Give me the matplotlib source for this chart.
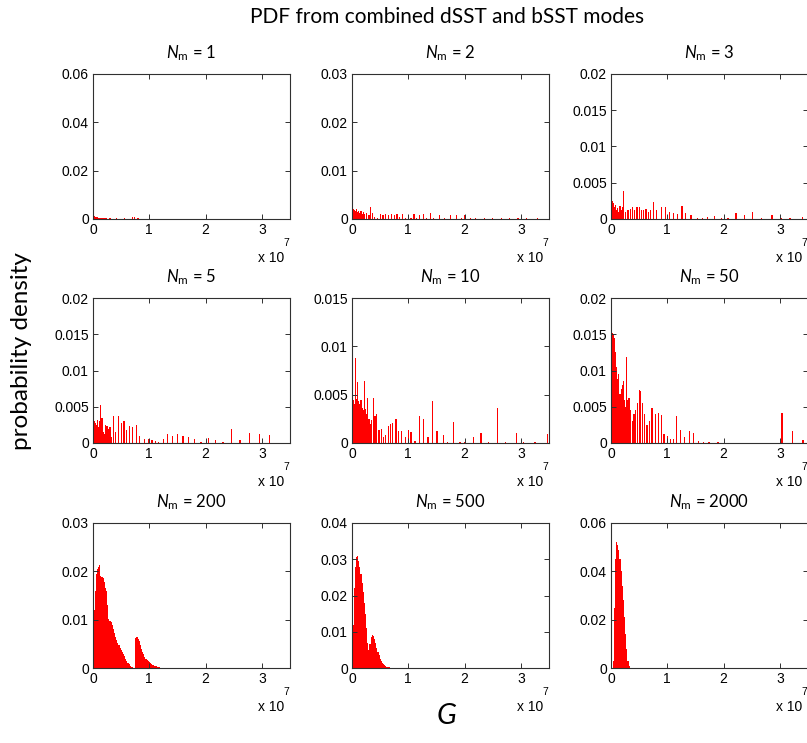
import numpy as np
import matplotlib
matplotlib.use("Agg")
import matplotlib.pyplot as plt

# histogram bin width (units of 1e7) for the densely filled part of each panel
bin_w = 0.02

nm_labels = ["1", "2", "3", "5", "10", "50", "200", "500", "2000"]

# N_m = 1
nm1_dense = [0.0020, 0.0012, 0.0010, 0.0008, 0.0007, 0.0006, 0.0005, 0.0005, 0.0004,
             0.0004, 0.0003, 0.0003, 0.0003]
nm1_g = [0.30, 0.36, 0.42, 0.50, 0.56, 0.62, 0.70, 0.74, 0.80, 0.90, 1.00, 1.10, 1.20, 1.30,
         1.40, 1.50, 1.60, 1.70, 1.85, 2.00, 2.15, 2.30, 2.45, 2.60, 2.80, 3.00, 3.30]
nm1_p = [0.0003, 0.0002, 0.0003, 0.0002, 0.0003, 0.0002, 0.0009, 0.0007, 0.0003, 0.0002,
         0.0002, 0.0002, 0.0002, 0.0002, 0.0002, 0.0002, 0.0002, 0.0002, 0.0002, 0.0002,
         0.0002, 0.0002, 0.0002, 0.0002, 0.0002, 0.0002, 0.0002]

# N_m = 2
nm2_dense = [0.0027, 0.0020, 0.0018, 0.0016, 0.0020, 0.0015, 0.0017, 0.0012, 0.0016,
             0.0011, 0.0015, 0.0010]
nm2_g = [0.26, 0.30, 0.33, 0.36, 0.40, 0.45, 0.50, 0.55, 0.60, 0.65, 0.70, 0.75, 0.80, 0.85,
         0.90, 0.95, 1.00, 1.05, 1.10, 1.15, 1.20, 1.27, 1.33, 1.40, 1.45, 1.55, 1.65, 1.75,
         1.85, 1.95, 2.00, 2.10, 2.20, 2.35, 2.50, 2.65, 2.80, 2.95, 3.10, 3.30]
nm2_p = [0.0012, 0.0008, 0.0025, 0.0012, 0.0005, 0.0003, 0.0011, 0.0009, 0.0010, 0.0009,
         0.0010, 0.0008, 0.0011, 0.0004, 0.0010, 0.0003, 0.0009, 0.0002, 0.0010, 0.0003,
         0.0008, 0.0010, 0.0003, 0.0012, 0.0003, 0.0008, 0.0002, 0.0008, 0.0008, 0.0003,
         0.0008, 0.0002, 0.0002, 0.0002, 0.0002, 0.0002, 0.0002, 0.0003, 0.0002, 0.0002]

# N_m = 3
nm3_dense = [0.0041, 0.0025, 0.0022, 0.0017, 0.0019, 0.0012, 0.0015, 0.0010, 0.0018,
             0.0013, 0.0016, 0.0039]
nm3_g = [0.26, 0.30, 0.34, 0.38, 0.42, 0.46, 0.50, 0.54, 0.58, 0.62, 0.66, 0.70, 0.75, 0.81,
         0.90, 0.97, 1.04, 1.11, 1.18, 1.26, 1.33, 1.42, 1.54, 1.63, 1.72, 1.84, 1.96, 2.08,
         2.22, 2.37, 2.51, 2.68, 2.86, 3.02, 3.18, 3.40]
nm3_p = [0.0010, 0.0012, 0.0014, 0.0016, 0.0012, 0.0017, 0.0016, 0.0012, 0.0012, 0.0014,
         0.0010, 0.0013, 0.0024, 0.0012, 0.0017, 0.0017, 0.0010, 0.0008, 0.0007, 0.0018,
         0.0008, 0.0006, 0.0002, 0.0002, 0.0003, 0.0004, 0.0002, 0.0002, 0.0008, 0.0005,
         0.0010, 0.0002, 0.0005, 0.0002, 0.0002, 0.0003]

# N_m = 5
nm5_dense = [0.0050, 0.0030, 0.0028, 0.0025, 0.0032, 0.0022, 0.0030, 0.0052, 0.0035,
             0.0015, 0.0012, 0.0025, 0.0024, 0.0023, 0.0020, 0.0022, 0.0008]
nm5_g = [0.36, 0.40, 0.45, 0.51, 0.55, 0.60, 0.65, 0.70, 0.77, 0.83, 0.92, 0.98, 1.05, 1.11,
         1.17, 1.25, 1.32, 1.41, 1.50, 1.60, 1.70, 1.81, 1.92, 2.05, 2.17, 2.31, 2.46, 2.61,
         2.78, 2.96, 3.14]
nm5_p = [0.0037, 0.0015, 0.0037, 0.0027, 0.0030, 0.0018, 0.0024, 0.0022, 0.0025, 0.0010,
         0.0006, 0.0005, 0.0004, 0.0003, 0.0002, 0.0005, 0.0012, 0.0009, 0.0012, 0.0009,
         0.0008, 0.0006, 0.0001, 0.0007, 0.0004, 0.0002, 0.0020, 0.0004, 0.0014, 0.0013,
         0.0011]

# N_m = 10
nm10_dense = [0.0060, 0.0045, 0.0040, 0.0088, 0.0046, 0.0063, 0.0043, 0.0040, 0.0045,
              0.0036, 0.0034, 0.0064, 0.0035, 0.0030, 0.0047, 0.0025, 0.0020]
nm10_g = [0.35, 0.38, 0.41, 0.44, 0.48, 0.52, 0.56, 0.60, 0.65, 0.68, 0.72, 0.78, 0.83, 0.88,
          0.95, 1.00, 1.05, 1.12, 1.20, 1.27, 1.35, 1.43, 1.51, 1.62, 1.70, 1.80, 1.92, 2.00,
          2.16, 2.29, 2.43, 2.58, 2.73, 2.92, 3.05, 3.25, 3.48]
nm10_p = [0.0024, 0.0047, 0.0028, 0.0030, 0.0013, 0.0014, 0.0006, 0.0008, 0.0018, 0.0020,
          0.0021, 0.0025, 0.0012, 0.0012, 0.0006, 0.0013, 0.0011, 0.0002, 0.0028, 0.0025,
          0.0006, 0.0043, 0.0012, 0.0008, 0.0001, 0.0022, 0.0001, 0.0001, 0.0006, 0.0010,
          0.0001, 0.0036, 0.0001, 0.0010, 0.0001, 0.0001, 0.0009]

# N_m = 50
nm50_dense = [0.0115, 0.0152, 0.0150, 0.0145, 0.0125, 0.0105, 0.0088, 0.0095, 0.0068,
              0.0074, 0.0080, 0.0085, 0.0060, 0.0050, 0.0118, 0.0060, 0.0062]
nm50_g = [0.35, 0.38, 0.41, 0.44, 0.47, 0.50, 0.53, 0.56, 0.59, 0.64, 0.68, 0.73, 0.79, 0.85,
          0.90, 0.94, 1.00, 1.06, 1.11, 1.17, 1.24, 1.31, 1.39, 1.47, 1.55, 1.65, 1.74, 1.90,
          3.04, 3.22, 3.41]
nm50_p = [0.0045, 0.0030, 0.0040, 0.0045, 0.0055, 0.0073, 0.0072, 0.0055, 0.0040, 0.0025,
          0.0030, 0.0048, 0.0040, 0.0042, 0.0038, 0.0013, 0.0010, 0.0006, 0.0005, 0.0037,
          0.0018, 0.0008, 0.0017, 0.0014, 0.0003, 0.0002, 0.0001, 0.0001, 0.0042, 0.0016,
          0.0004]

# N_m = 200
nm200_dense = [0.0040, 0.0120, 0.0160, 0.0195, 0.0205, 0.0210, 0.0213, 0.0190, 0.0188,
               0.0187, 0.0178, 0.0165, 0.0160, 0.0130, 0.0102, 0.0098, 0.0095, 0.0088,
               0.0080, 0.0072, 0.0065, 0.0058, 0.0052, 0.0047, 0.0042, 0.0037, 0.0033,
               0.0029, 0.0024, 0.0019, 0.0015, 0.0011, 0.0008, 0.0005, 0.0003, 0.0002,
               0.0001, 0.0001, 0.0062, 0.0064, 0.0060, 0.0056, 0.0048, 0.0040, 0.0033,
               0.0028, 0.0023, 0.0019, 0.0016, 0.0014, 0.0012, 0.0010, 0.0008, 0.0007,
               0.0006, 0.0005, 0.0004, 0.0003, 0.0002, 0.0002, 0.0001, 0.0001, 0.0001]
nm200_g = []
nm200_p = []

# N_m = 500
nm500_dense = [0.0020, 0.0120, 0.0220, 0.0280, 0.0305, 0.0310, 0.0295, 0.0280, 0.0260,
               0.0235, 0.0210, 0.0180, 0.0150, 0.0110, 0.0070, 0.0050, 0.0065, 0.0085,
               0.0092, 0.0088, 0.0080, 0.0068, 0.0056, 0.0045, 0.0035, 0.0026, 0.0019,
               0.0014, 0.0010, 0.0007, 0.0005, 0.0004, 0.0003, 0.0002, 0.0001, 0.0001]
nm500_g = []
nm500_p = []

# N_m = 2000
nm2000_dense = [0.0, 0.0, 0.0030, 0.0250, 0.0450, 0.0520, 0.0510, 0.0490, 0.0450,
                0.0400, 0.0340, 0.0280, 0.0210, 0.0140, 0.0080, 0.0030, 0.0010]
nm2000_g = []
nm2000_p = []

dense_all = [nm1_dense, nm2_dense, nm3_dense, nm5_dense, nm10_dense, nm50_dense,
             nm200_dense, nm500_dense, nm2000_dense]
g_all = [nm1_g, nm2_g, nm3_g, nm5_g, nm10_g, nm50_g, nm200_g, nm500_g, nm2000_g]
p_all = [nm1_p, nm2_p, nm3_p, nm5_p, nm10_p, nm50_p, nm200_p, nm500_p, nm2000_p]

y_tops = [0.06, 0.03, 0.02, 0.02, 0.015, 0.02, 0.03, 0.04, 0.06]
y_steps = [0.02, 0.01, 0.005, 0.005, 0.005, 0.005, 0.01, 0.01, 0.02]

plt.rcParams['font.family'] = ['Liberation Sans', 'DejaVu Sans']
plt.rcParams['mathtext.fontset'] = 'custom'
plt.rcParams['mathtext.rm'] = 'Lato'
plt.rcParams['mathtext.it'] = 'Lato:italic'

W, H = 807, 743
fig = plt.figure(figsize=(W / 100, H / 100), dpi=100)

col_left = [93, 352, 611]
row_bottom = [219, 443, 668]
ax_w, ax_h = 197, 145
edge = '#303030'

for i in range(9):
    r, c = divmod(i, 3)
    ax = fig.add_axes([col_left[c] / W, 1 - row_bottom[r] / H, ax_w / W, ax_h / H])

    dense = dense_all[i]
    g = list(np.arange(len(dense)) * bin_w) + g_all[i]
    p = list(dense) + p_all[i]
    ax.bar(g, p, width=bin_w * 1.1, align='center', color='#ff0000', linewidth=0)

    ax.set_xlim(0, 3.5)
    ax.set_ylim(0, y_tops[i])
    ax.set_xticks([0, 1, 2, 3])
    yt = np.arange(0, y_tops[i] + 1e-9, y_steps[i])
    ax.set_yticks(yt)
    ax.set_yticklabels(['%g' % round(v, 4) for v in yt])
    ax.tick_params(direction='in', top=True, right=True, length=3.5, width=0.7,
                   color=edge, labelsize=10, pad=3)
    for s in ax.spines.values():
        s.set_color(edge)
        s.set_linewidth(0.8)

    ax.annotate(r'$N_{\mathrm{m}}$ = ' + nm_labels[i], xy=(0.5, 1), xycoords='axes fraction',
                xytext=(0, 16), textcoords='offset pixels', ha='center', va='baseline',
                fontsize=12, family='Lato')
    ax.annotate('x 10', xy=(1, 0), xycoords='axes fraction', xytext=(-6, -39),
                textcoords='offset pixels', ha='right', va='center', fontsize=10)
    ax.annotate('7', xy=(1, 0), xycoords='axes fraction', xytext=(-1, -24),
                textcoords='offset pixels', ha='right', va='center', fontsize=7.5)

fig.text(447 / W, 1 - 17 / H, 'PDF from combined dSST and bSST modes', ha='center',
         va='center', fontsize=15, family='Lato')
fig.text(22 / W, 1 - 351 / H, 'probability density', rotation=90, ha='center',
         va='center', fontsize=17.5, family='Lato')
fig.text(447 / W, 1 - 716 / H, 'G', ha='center', va='center', fontsize=21,
         family='Lato', style='italic')

fig.savefig('out.png', dpi=100)
